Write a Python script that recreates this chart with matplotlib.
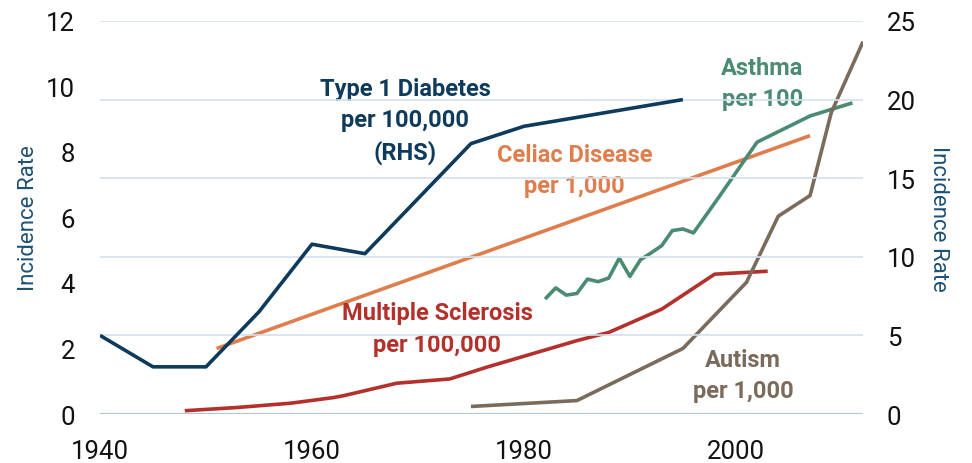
import matplotlib
matplotlib.use('Agg')
import matplotlib.pyplot as plt

plt.rcParams['font.family'] = ['Roboto', 'DejaVu Sans']

# Type 1 Diabetes per 100,000 (right axis)
t1d_years = [1940, 1945, 1950, 1955, 1960, 1965, 1975, 1980, 1995]
t1d_vals = [5.0, 3.0, 3.0, 6.5, 10.8, 10.2, 17.2, 18.3, 20.0]

# Celiac Disease per 1,000
celiac_years = [1951, 2007]
celiac_vals = [2.0, 8.5]

# Multiple Sclerosis per 100,000
ms_years = [1948, 1953, 1958, 1962, 1963, 1968, 1973, 1976.5, 1985, 1988, 1993, 1998, 2003]
ms_vals = [0.1, 0.2, 0.33, 0.5, 0.56, 0.94, 1.07, 1.43, 2.24, 2.49, 3.2, 4.27, 4.36]

# Asthma per 100
asthma_years = [1982, 1983, 1984, 1985, 1986, 1987, 1988, 1989, 1990, 1991, 1992, 1993,
                1994, 1995, 1996, 1998.5, 2002, 2007, 2011]
asthma_vals = [3.51, 3.85, 3.63, 3.68, 4.12, 4.04, 4.15, 4.76, 4.2, 4.71, 4.92, 5.14,
               5.6, 5.65, 5.53, 6.67, 8.3, 9.1, 9.5]

# Autism per 1,000
autism_years = [1975, 1985, 1995, 2001, 2004, 2007, 2009, 2012]
autism_vals = [0.23, 0.41, 2.0, 4.02, 6.04, 6.67, 9.2, 11.37]

navy = '#0e3b5c'
orange = '#e07d4c'
red = '#b3302b'
green = '#4a8b72'
brown = '#7b6b5d'
label_col = '#1d5175'

fig = plt.figure(figsize=(9.72, 4.64), dpi=100)
ax = fig.add_axes([0.1029, 0.1056, 0.785, 0.847])
ax2 = ax.twinx()

lw = 2.6
ax.plot(celiac_years, celiac_vals, color=orange, lw=lw, solid_capstyle='butt')
ax.plot(ms_years, ms_vals, color=red, lw=lw, solid_capstyle='butt')
ax.plot(asthma_years, asthma_vals, color=green, lw=lw, solid_capstyle='butt')
ax.plot(autism_years, autism_vals, color=brown, lw=lw, solid_capstyle='butt')
ax2.plot(t1d_years, t1d_vals, color=navy, lw=lw, solid_capstyle='butt')

ax.set_xlim(1940, 2012)
ax.set_ylim(0, 12)
ax2.set_ylim(0, 25)
ax.set_yticks(range(0, 13, 2))
ax2.set_yticks(range(0, 26, 5))
ax.set_xticks([1940, 1960, 1980, 2000])

ax2.grid(axis='y', color='#d3e2ec', lw=1.2)

for a in (ax, ax2):
    for s in a.spines.values():
        s.set_visible(False)
    a.tick_params(length=0, labelsize=18.5, colors='#111111')
ax.tick_params(axis='y', pad=18)
ax2.tick_params(axis='y', pad=17)
ax.tick_params(axis='x', pad=18)
ax.axhline(0, color=navy, lw=2.2, zorder=1)

ax.set_ylabel('Incidence Rate', color=label_col, fontsize=16, labelpad=5)
ax2.set_ylabel('Incidence Rate', color=label_col, fontsize=16, rotation=270, labelpad=24)

tk = dict(ha='center', va='center', fontsize=17, fontweight='bold', linespacing=1.45)
ax.text(1968.8, 8.95, 'Type 1 Diabetes\nper 100,000\n(RHS)', color=navy, **tk)
ax.text(1984.8, 7.45, 'Celiac Disease\nper 1,000', color=orange, **tk)
ax.text(2002.5, 10.12, 'Asthma\nper 100', color=green, **tk)
ax.text(1971.8, 2.61, 'Multiple Sclerosis\nper 100,000', color=red, **tk)
ax.text(2000.7, 1.19, 'Autism\nper 1,000', color=brown, **tk)

fig.savefig('out.png', dpi=100)
